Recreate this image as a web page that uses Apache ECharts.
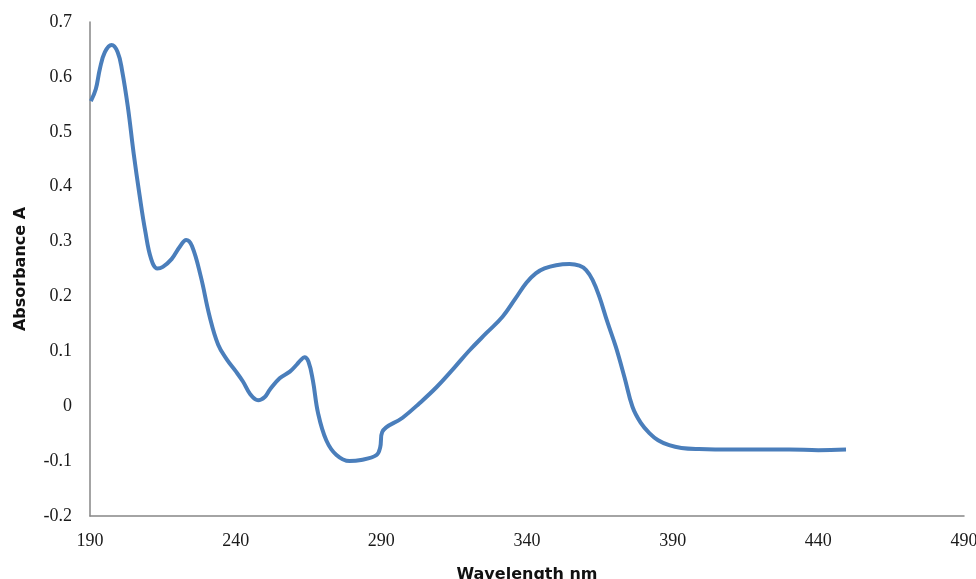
<!DOCTYPE html>
<html>
<head>
<meta charset="utf-8">
<script src="https://cdn.jsdelivr.net/npm/echarts@6/dist/echarts.min.js"></script>
<style>html,body{margin:0;padding:0;background:#fff}#c{width:976px;height:579px}</style>
</head>
<body>
<div id="c"></div>
<script>
const wavelength = [190.3,192,193.4,195.1,197.4,199.5,201,203,205,207,209,211,213.1,215,218,221,223,225,228,231,234,237,240,242.5,245,247.7,250,251.7,255.1,258.6,261,262.3,263.6,265,266.5,268.3,271.1,274.6,279.1,283,288.3,289.6,290.3,297.3,303,309,315,320.3,326,331.6,336,339.8,343,346,350,354.6,358,360.3,362.5,364.8,367.5,370.5,373.5,376.2,379,382,385,388.8,393,399,410,420,430,440,449.5];
const absorbance = [0.556,0.578,0.615,0.645,0.658,0.645,0.612,0.545,0.460,0.385,0.318,0.268,0.251,0.254,0.268,0.292,0.303,0.292,0.237,0.165,0.112,0.085,0.064,0.045,0.022,0.011,0.017,0.030,0.051,0.063,0.076,0.084,0.089,0.081,0.047,-0.013,-0.062,-0.089,-0.100,-0.098,-0.089,-0.075,-0.047,-0.021,0.005,0.035,0.070,0.102,0.133,0.163,0.196,0.225,0.242,0.251,0.257,0.259,0.256,0.248,0.230,0.200,0.155,0.108,0.052,-0.001,-0.030,-0.049,-0.062,-0.071,-0.076,-0.078,-0.079,-0.079,-0.079,-0.080,-0.079];
const xTicks = {min:190, max:490, interval:50};
const yTicks = {min:-0.2, max:0.7, interval:0.1};
const xTitle = 'Wavelength nm';
const yTitle = 'Absorbance A';

const chart = echarts.init(document.getElementById('c'));
const lblStyle = {fontFamily:'Liberation Serif', fontSize:18, color:'#1a1a1a'};
const titleStyle = {fontFamily:'DejaVu Sans', fontWeight:'bold', fontSize:16, color:'#111'};
chart.setOption({
  animation:false,
  grid:{left:90, right:12, top:22, bottom:63, containLabel:false, outerBoundsMode:'none'},
  xAxis:{
    type:'value', min:xTicks.min, max:xTicks.max, interval:xTicks.interval,
    name:xTitle, nameLocation:'middle', nameGap:51,
    nameTextStyle:titleStyle,
    axisLine:{onZero:false, lineStyle:{color:'#868686', width:1.5}},
    axisTick:{show:false}, splitLine:{show:false},
    axisLabel:Object.assign({margin:16}, lblStyle)
  },
  yAxis:{
    type:'value', min:yTicks.min, max:yTicks.max, interval:yTicks.interval,
    name:yTitle, nameLocation:'middle', nameGap:61, nameRotate:90,
    nameTextStyle:titleStyle,
    axisLine:{show:true, onZero:false, lineStyle:{color:'#868686', width:1.5}},
    axisTick:{show:false}, splitLine:{show:false},
    axisLabel:Object.assign({margin:18, formatter:function(v){return String(Math.round(v*10)/10);}}, lblStyle)
  },
  series:[{
    type:'line', smooth:0.4, showSymbol:false,
    data: wavelength.map((w,i)=>[w, absorbance[i]]),
    lineStyle:{color:'#4A7EBB', width:4}
  }]
});
</script>
</body>
</html>
